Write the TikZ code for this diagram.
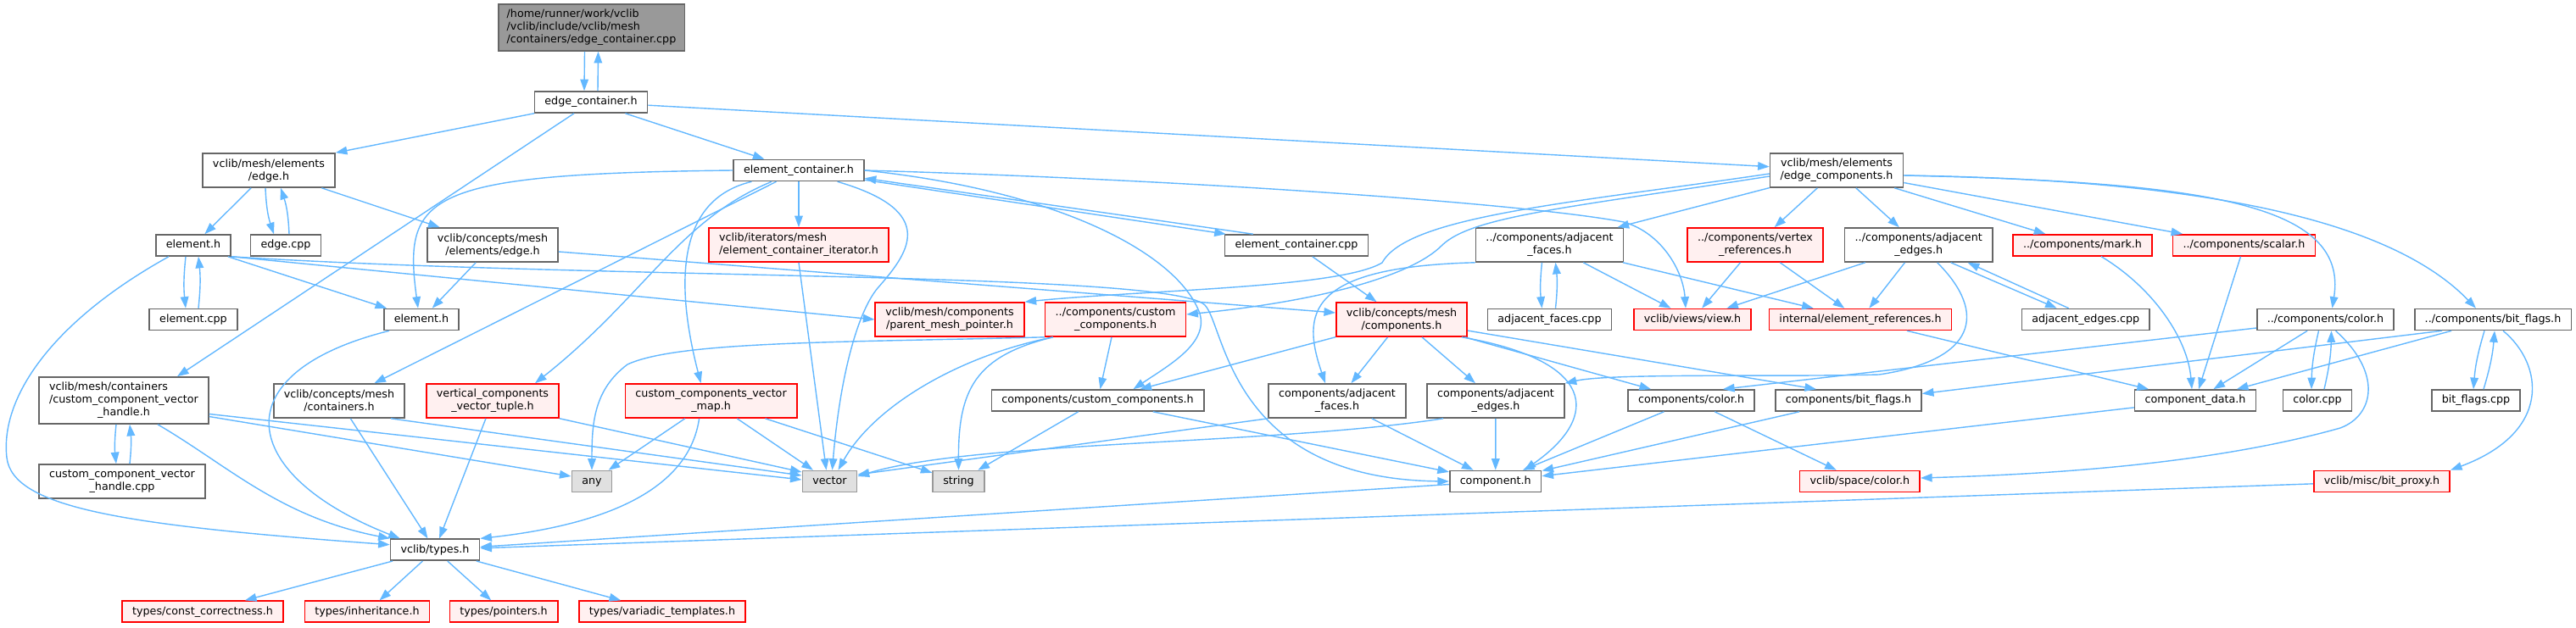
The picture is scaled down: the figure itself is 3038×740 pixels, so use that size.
\documentclass[tikz,border=0pt]{standalone}
\usepackage{fontspec}
\setmainfont{DejaVu Sans}
\usepackage{xcolor}
\definecolor{link}{HTML}{63B8FF}
\definecolor{rim}{HTML}{666666}
\definecolor{cut}{HTML}{FF0000}
\definecolor{cutbg}{HTML}{FFF0F0}
\definecolor{sysrim}{HTML}{999999}
\definecolor{sysbg}{HTML}{E0E0E0}
\definecolor{rootbg}{HTML}{999999}
\usepackage{tikz}
\usetikzlibrary{arrows.meta}
\tikzset{
  >={Triangle[length=6.8pt, width=4.8pt]},
  box/.style={draw=rim, fill=white, text=black, align=center, line width=0.8pt,
    font=\fontsize{6.35pt}{7.5pt}\selectfont, inner xsep=6pt, inner ysep=1pt},
  l1/.style={minimum height=12.5pt, text height=4.9pt, text depth=1.55pt},
  l2/.style={minimum height=20pt},
  l3/.style={minimum height=27.5pt},
  dep/.style={->, line width=0.7pt, color=link},
}
\begin{document}
\begin{tikzpicture}[x=0.5pt, y=-0.5pt,
    hdr/.style={box},
    miss/.style={box, draw=cut, fill=cutbg},
    ext/.style={box, draw=sysrim, fill=sysbg},
    main/.style={box, fill=rootbg, align=left, inner xsep=5pt}]

  \useasboundingbox[fill=white] (0,0) rectangle (3038,740);

  \node[main, l3] (root) at (697.5,32.5) {/home/runner/work/vclib\\/vclib/include/vclib/mesh\\/containers/edge\_container.cpp};
  \node[hdr, l1] (ec) at (697,120.5) {edge\_container.h};
  \node[hdr, l2] (meh) at (317,201) {vclib/mesh/elements\\/edge.h};
  \node[hdr, l1] (elh) at (228,289.5) {element.h};
  \node[hdr, l1] (edgecpp) at (337,289.5) {edge.cpp};
  \node[hdr, l2] (ceh) at (581,289) {vclib/concepts/mesh\\/elements/edge.h};
  \node[hdr, l1] (elcpp) at (228,377) {element.cpp};
  \node[hdr, l1] (elb) at (497,377) {element.h};
  \node[hdr, l3] (ccvh) at (146,472.5) {\rlap{vclib/mesh/containers}\hphantom{/custom\_component\_vector}\\/custom\_component\_vector\\\_handle.h};
  \node[hdr, l2] (ccvcpp) at (144,568) {custom\_component\_vector\\\_handle.cpp};
  \node[hdr, l2] (cmc) at (400,473) {vclib/concepts/mesh\\/containers.h};
  \node[miss, l2] (vcvt) at (581,473) {vertical\_components\\\_vector\_tuple.h};
  \node[miss, l2] (ccvm) at (838.6,473) {custom\_components\_vector\\\_map.h};
  \node[ext, l1] (any) at (698,568) {any};
  \node[ext, l1] (vec) at (978.5,568) {vector};
  \node[ext, l1] (str) at (1130.5,568) {string};
  \node[hdr, l1] (types) at (513,648.7) {vclib/types.h};
  \node[miss, l1] (tcc) at (239,721.7) {types/const\_correctness.h};
  \node[miss, l1] (tinh) at (433,721.7) {types/inheritance.h};
  \node[miss, l1] (tptr) at (594,721.7) {types/pointers.h};
  \node[miss, l1] (tvar) at (781,721.7) {types/variadic\_templates.h};
  \node[hdr, l1] (elc) at (942,201) {element\_container.h};
  \node[miss, l2, align=left] (eci) at (942,289) {vclib/iterators/mesh\\/element\_container\_iterator.h};
  \node[hdr, l1] (elccpp) at (1529,289.5) {element\_container.cpp};
  \node[miss, l2] (pmp) at (1120,377) {vclib/mesh/components\\/parent\_mesh\_pointer.h};
  \node[miss, l2] (ccomp) at (1315.6,377) {../components/custom\\\_components.h};
  \node[hdr, l1] (ccomps) at (1294.5,472.5) {components/custom\_components.h};
  \node[hdr, l2] (ecomp) at (2166,201) {vclib/mesh/elements\\/edge\_components.h};
  \node[hdr, l2] (caf) at (1827.5,289) {../components/adjacent\\\_faces.h};
  \node[miss, l2] (cvr) at (2070,289) {../components/vertex\\\_references.h};
  \node[hdr, l2] (cae) at (2262.7,289) {../components/adjacent\\\_edges.h};
  \node[miss, l1] (cmark) at (2456,289.3) {../components/mark.h};
  \node[miss, l1] (cscal) at (2646.5,289.3) {../components/scalar.h};
  \node[hdr, l1] (afcpp) at (1827.5,377) {adjacent\_faces.cpp};
  \node[miss, l1] (view) at (1996,377) {vclib/views/view.h};
  \node[miss, l1] (elref) at (2194,377) {internal/element\_references.h};
  \node[miss, l2] (cmcomp) at (1653,377) {vclib/concepts/mesh\\/components.h};
  \node[hdr, l1] (aecpp) at (2459.7,377) {adjacent\_edges.cpp};
  \node[hdr, l1] (ccol) at (2742.5,377) {../components/color.h};
  \node[hdr, l1] (cbf) at (2940,377) {../components/bit\_flags.h};
  \node[hdr, l1] (cdata) at (2589,472.5) {component\_data.h};
  \node[hdr, l1] (colcpp) at (2733,472.5) {color.cpp};
  \node[hdr, l1] (bfcpp) at (2920,472.5) {bit\_flags.cpp};
  \node[miss, l1] (bproxy) at (2809,568) {vclib/misc/bit\_proxy.h};
  \node[hdr, l2] (kaf) at (1577,473) {components/adjacent\\\_faces.h};
  \node[hdr, l2] (kae) at (1764,473) {components/adjacent\\\_edges.h};
  \node[hdr, l1] (kcol) at (1994.6,472.5) {components/color.h};
  \node[hdr, l1] (kbf) at (2180,472.5) {components/bit\_flags.h};
  \node[hdr, l1] (comp) at (1763.7,568) {component.h};
  \node[miss, l1] (scol) at (2193.4,568) {vclib/space/color.h};

  \draw[dep] ([xshift=-4pt]root.south) -- ([xshift=-4pt]ec.north);
  \draw[dep] ([xshift=4pt]ec.north) -- ([xshift=4pt]root.south);
  \draw[dep] (ec) -- (meh.north east);
  \draw[dep] (ec) -- ([xshift=31.5pt]ccvh.north);
  \draw[dep] (ec) -- (elc);
  \draw[dep] (ec) -- (ecomp);

  \draw[dep] (meh) -- (elh);
  \draw[dep] ([xshift=-2pt]meh.south) to[bend right=8] ([xshift=-7pt]edgecpp.north);
  \draw[dep] ([xshift=2pt]edgecpp.north) to[bend right=8] ([xshift=7pt]meh.south);
  \draw[dep] (meh) -- (ceh);

  \draw[dep] ([xshift=-4.5pt]elh.south) to[bend right=6] ([xshift=-4.5pt]elcpp.north);
  \draw[dep] ([xshift=3pt]elcpp.north) to[bend right=6] ([xshift=3pt]elh.south);
  \draw[dep] (elh) -- (elb);
  \draw[dep] (elh.south east) -- (pmp.west);
  \draw[dep] (elh.south east) .. controls (700,330) and (1380,320) .. (1421,360)
    .. controls (1445,385) and (1450,565) .. (comp.west);
  \draw[dep] ([xshift=8pt]elh.south west) .. controls (60,380) and (0,470) .. (8,540)
    .. controls (15,600) and (150,620) .. ([yshift=3pt]types.west);

  \draw[dep] ([xshift=3.5pt]elb.south west) .. controls (260,440) and (280,560) .. ([xshift=6pt]types.north west);
  \draw[dep] (elc.west) .. controls (500,205) and (475,230) .. ([xshift=-2pt]elb.north);
  \draw[dep] (ceh) -- (elb);
  \draw[dep] ([yshift=-4pt]ceh.east) -- ([yshift=4pt]cmcomp.west);

  \draw[dep] ([xshift=-4.5pt]ccvh.south) to[bend right=6] ([xshift=-3.5pt]ccvcpp.north);
  \draw[dep] ([xshift=4.5pt]ccvcpp.north) to[bend right=6] ([xshift=3.5pt]ccvh.south);
  \draw[dep] ([xshift=20pt]ccvh.south) .. controls (270,550) and (330,610) .. (types.north west);
  \draw[dep] ([yshift=-9.5pt]ccvh.east) -- ([yshift=3pt]any.west);
  \draw[dep] ([yshift=-8pt]ccvh.east) -- ([yshift=1pt]vec.west);

  \draw[dep] (cmc) -- (types);
  \draw[dep] ([xshift=-8.5pt]cmc.south east) -- ([yshift=3.5pt]vec.west);
  \draw[dep] (vcvt) -- (types);
  \draw[dep] (vcvt.south east) -- ([yshift=5.5pt]vec.west);
  \draw[dep] (ccvm) -- (any);
  \draw[dep] (ccvm) -- (vec);
  \draw[dep] (ccvm) -- (str);
  \draw[dep] ([xshift=-7pt]ccvm.south) .. controls (815,560) and (750,615) .. (types.north east);

  \draw[dep] (elc) -- (cmc);
  \draw[dep] (elc) .. controls (800,260) and (760,350) .. ([xshift=25pt]vcvt.north);
  \draw[dep] (elc) .. controls (800,235) and (795,330) .. ([xshift=-6pt]ccvm.north);
  \draw[dep] (elc) -- (eci);
  \draw[dep] (elc) .. controls (1110,250) and (1070,300) .. (1035,340)
    .. controls (1010,370) and (990,450) .. ([xshift=1.5pt]vec.north);
  \draw[dep] (elc.east) .. controls (1250,225) and (1390,300) .. (1415,370)
    .. controls (1425,405) and (1380,430) .. ([xshift=21pt]ccomps.north);
  \draw[dep] (elc.east) .. controls (1400,212) and (1800,240) .. (1915,262)
    .. controls (1960,275) and (1985,320) .. ([xshift=-4pt]view.north);
  \draw[dep] ([yshift=1pt]elc.south east) -- ([xshift=1pt]elccpp.north west);
  \draw[dep] ([xshift=17pt]elccpp.north west) -- ([yshift=2pt]elc.south east);
  \draw[dep] (eci.south) -- ([xshift=-2pt]vec.north);
  \draw[dep] (elccpp) -- (cmcomp);

  \draw[dep] (ecomp) -- (caf);
  \draw[dep] (ecomp) -- (cvr);
  \draw[dep] (ecomp) -- (cae);
  \draw[dep] (ecomp) -- (cmark);
  \draw[dep] (ecomp) -- (cscal);
  \draw[dep] ([yshift=-3pt]ecomp.east) .. controls (2600,215) and (2770,240) .. ([xshift=4pt]ccol.north);
  \draw[dep] ([yshift=-3pt]ecomp.east) .. controls (2600,212) and (2820,260) .. ([xshift=-10pt]cbf.north);
  \draw[dep] ([yshift=-2pt]ecomp.west) .. controls (1850,240) and (1660,255) .. (1630,310)
    .. controls (1580,340) and (1350,342) .. (pmp.north east);
  \draw[dep] ([yshift=-3.5pt]ecomp.west) .. controls (1850,245) and (1735,255) .. (1700,290)
    .. controls (1665,325) and (1560,355) .. ([yshift=3pt]ccomp.east);

  \draw[dep] (caf.south west) .. controls (1540,315) and (1535,370) .. ([xshift=-7pt]kaf.north);
  \draw[dep] ([xshift=-4.5pt]caf.south) to[bend right=6] ([xshift=-4.5pt]afcpp.north);
  \draw[dep] ([xshift=3.5pt]afcpp.north) to[bend right=6] ([xshift=3.5pt]caf.south);
  \draw[dep] (caf) -- (view);
  \draw[dep] (caf) -- (elref);
  \draw[dep] (cvr) -- (view);
  \draw[dep] (cvr) -- (elref);
  \draw[dep] (cae) -- (view);
  \draw[dep] (cae) -- (elref);
  \draw[dep] ([xshift=11pt]cae.south) .. controls (2345,370) and (2330,425) .. (2216,442)
    .. controls (2100,445) and (1900,440) .. (kae.north east);
  \draw[dep] ([xshift=19pt]cae.south) -- ([xshift=-17pt]aecpp.north);
  \draw[dep] ([xshift=-10pt]aecpp.north) -- ([xshift=29pt]cae.south);

  \draw[dep] ([xshift=11pt]cmark.south) .. controls (2540,340) and (2580,400) .. ([xshift=-2pt]cdata.north);
  \draw[dep] ([xshift=-2pt]cscal.south) -- ([xshift=2pt]cdata.north);
  \draw[dep] (elref) -- (cdata);
  \draw[dep] (ccol) -- (cdata);
  \draw[dep] (cbf) -- (cdata);
  \draw[dep] ([xshift=-4pt]ccol.south) to[bend right=6] ([xshift=-3.5pt]colcpp.north);
  \draw[dep] ([xshift=4pt]colcpp.north) to[bend right=6] ([xshift=3.5pt]ccol.south);
  \draw[dep] ([xshift=-5pt]cbf.south) to[bend right=6] ([xshift=-1.5pt]bfcpp.north);
  \draw[dep] ([xshift=4.5pt]bfcpp.north) to[bend right=6] ([xshift=1pt]cbf.south);
  \draw[dep] ([xshift=6pt]ccol.south) .. controls (2810,440) and (2800,490) .. (2760,505)
    .. controls (2600,550) and (2400,560) .. ([yshift=2pt]scol.east);
  \draw[dep] ([xshift=6pt]cbf.south) .. controls (3000,430) and (3010,510) .. (bproxy.north east);
  \draw[dep] ([yshift=-5pt]ccol.west) -- ([xshift=18.7pt]kcol.north);
  \draw[dep] ([xshift=-30pt]cbf.south) -- ([yshift=4pt]kbf.east);

  \draw[dep] (ccomp) -- (ccomps);
  \draw[dep] ([xshift=5pt]ccomp.south west) .. controls (1130,420) and (1030,480) .. ([xshift=5pt]vec.north);
  \draw[dep] ([xshift=5pt]ccomp.south west) .. controls (1150,420) and (1130,460) .. (str.north);
  \draw[dep] (ccomp.south west) .. controls (1000,404) and (800,402) .. (740,430)
    .. controls (700,460) and (698,500) .. (any.north);

  \draw[dep] (cmcomp) -- (kaf);
  \draw[dep] (cmcomp) -- (kae);
  \draw[dep] (cmcomp) -- (kcol);
  \draw[dep] (cmcomp) -- ([xshift=-19pt]kbf.north);
  \draw[dep] (cmcomp) -- (ccomps);
  \draw[dep] ([xshift=-3.5pt]cmcomp.south east) .. controls (1880,425) and (1890,490) .. ([xshift=17pt]comp.north);
  \draw[dep] (kaf.south west) -- ([yshift=4pt]vec.east);
  \draw[dep] ([xshift=-31pt]kae.south) .. controls (1500,525) and (1150,520) .. ([yshift=3pt]vec.east);
  \draw[dep] (ccomps) -- (comp);
  \draw[dep] (ccomps) -- (str);
  \draw[dep] (kaf) -- (comp);
  \draw[dep] (kae) -- (comp);
  \draw[dep] (kcol) -- (comp);
  \draw[dep] (kbf) -- (comp);
  \draw[dep] (kcol) -- (scol);
  \draw[dep] (cdata) -- (comp);
  \draw[dep] (comp) -- (types);
  \draw[dep] (bproxy) -- (types);

  \draw[dep] (types) -- (tcc);
  \draw[dep] (types) -- (tinh);
  \draw[dep] (types) -- (tptr);
  \draw[dep] (types) -- (tvar);
\end{tikzpicture}
\end{document}
